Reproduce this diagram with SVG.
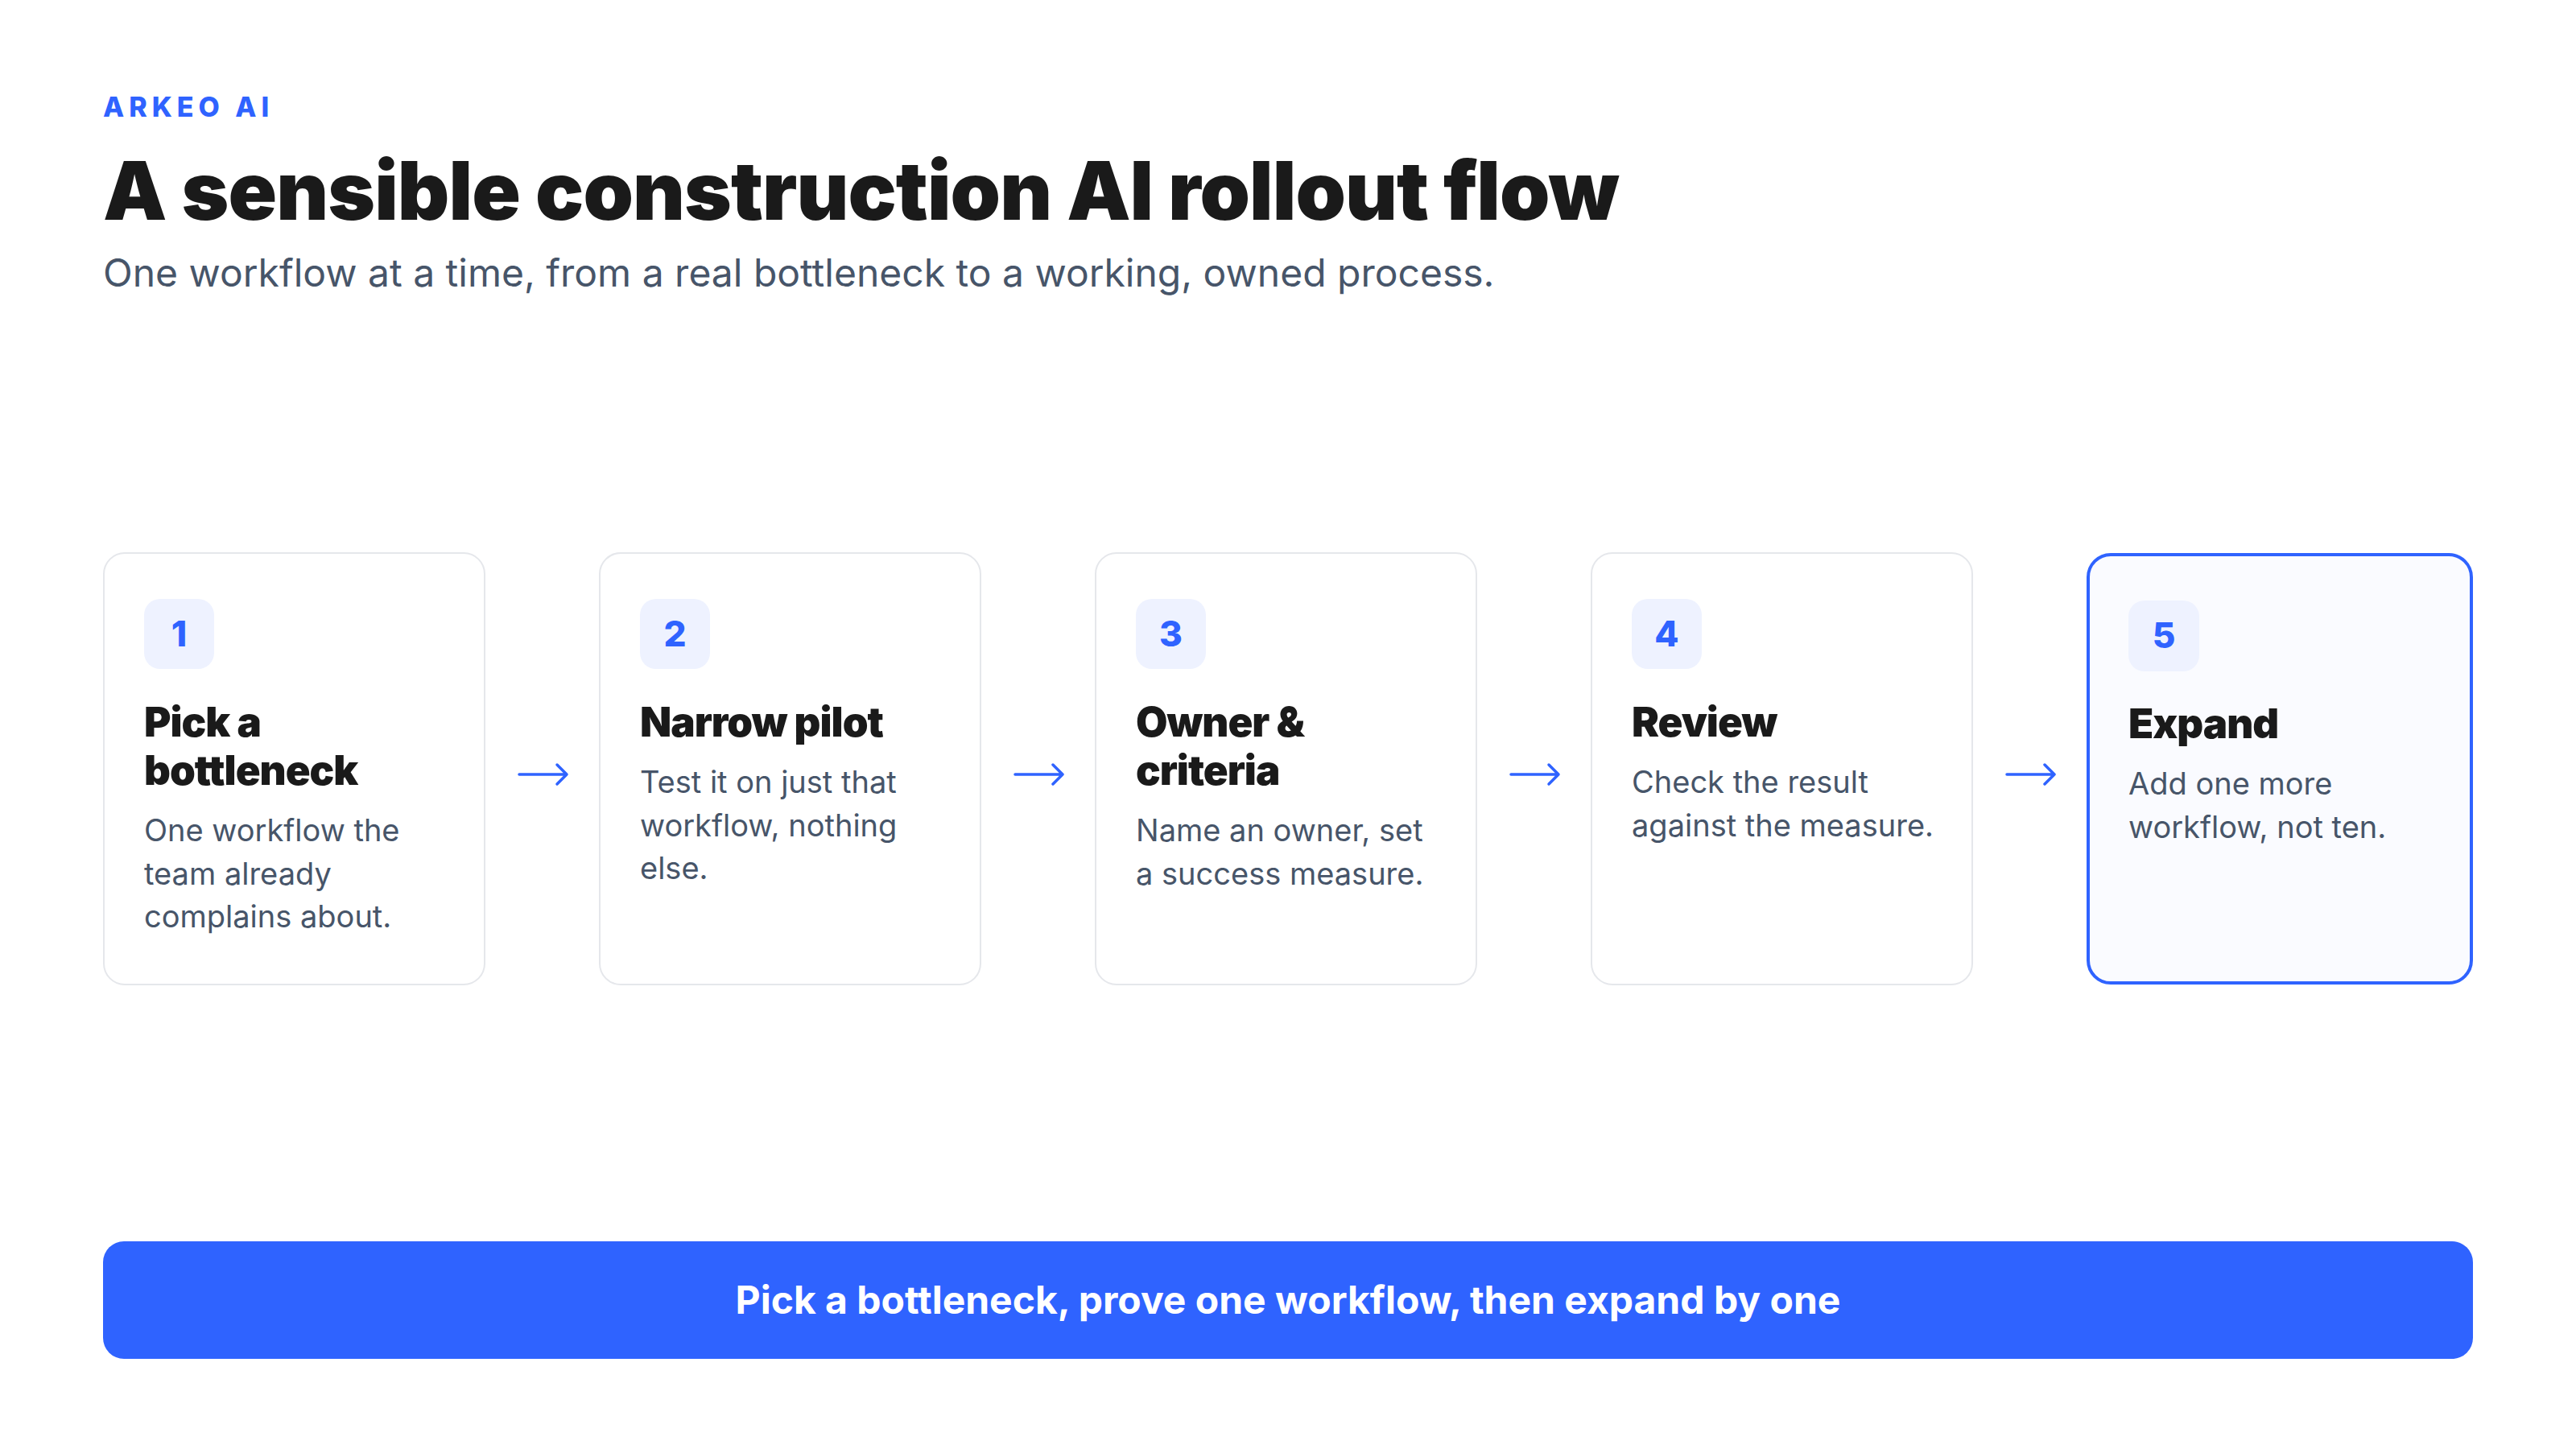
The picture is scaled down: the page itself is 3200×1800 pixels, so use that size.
<svg xmlns="http://www.w3.org/2000/svg" width="3200" height="1800" viewBox="0 0 3200 1800">
<style>
.bg{fill:#ffffff}
.card{fill:#ffffff;stroke:#E5E7EB;stroke-width:2}
.card.hl{fill:#FAFBFF;stroke:#2F63FF;stroke-width:4}
.badge{fill:#EEF2FF}
.num{font-family:Inter,"Noto Sans",sans-serif;font-weight:800;font-size:44px;fill:#2F63FF;text-anchor:middle}
.ct{font-family:Inter,"Noto Sans",sans-serif;font-weight:900;font-size:51px;fill:#1A1A1A;letter-spacing:-1px}
.cd{font-family:Inter,"Noto Sans",sans-serif;font-weight:400;font-size:38px;fill:#475569}
.eyebrow{font-family:Inter,"Noto Sans",sans-serif;font-weight:800;font-size:34px;fill:#2F63FF;letter-spacing:6px}
.title{font-family:Inter,"Noto Sans",sans-serif;font-weight:900;font-size:100px;fill:#1A1A1A;letter-spacing:-0.9px}
.sub{font-family:Inter,"Noto Sans",sans-serif;font-weight:400;font-size:48px;fill:#475569}
.arrow{fill:none;stroke:#2F63FF;stroke-width:3.5;stroke-linecap:round;stroke-linejoin:round}
.banner{fill:#2F63FF}
.bt{font-family:Inter,"Noto Sans",sans-serif;font-weight:700;font-size:48px;fill:#ffffff;text-anchor:middle}
</style>
<rect class="bg" x="0" y="0" width="3200" height="1800"/>
<g id="header">
<text class="eyebrow" x="128" y="145">ARKEO AI</text>
<text class="title" x="128" y="273">A sensible construction AI rollout flow</text>
<text class="sub" x="128" y="356">One workflow at a time, from a real bottleneck to a working, owned process.</text>
</g>
<g id="connectors">
<path class="arrow" d="M645 962 H704 M692 950 L704 962 L692 974"/>
<path class="arrow" d="M1261 962 H1320 M1308 950 L1320 962 L1308 974"/>
<path class="arrow" d="M1877 962 H1936 M1924 950 L1936 962 L1924 974"/>
<path class="arrow" d="M2493 962 H2552 M2540 950 L2552 962 L2540 974"/>
</g>
<g id="step1">
<rect class="card" x="129" y="687" width="473" height="536" rx="26"/>
<rect class="badge" x="179" y="744" width="87" height="87" rx="20"/>
<text class="num" x="222.5" y="803">1</text>
<text class="ct" x="179" y="915">Pick a</text>
<text class="ct" x="179" y="975">bottleneck</text>
<text class="cd" x="179" y="1045">One workflow the</text>
<text class="cd" x="179" y="1099">team already</text>
<text class="cd" x="179" y="1152">complains about.</text>
</g>
<g id="step2">
<rect class="card" x="745" y="687" width="473" height="536" rx="26"/>
<rect class="badge" x="795" y="744" width="87" height="87" rx="20"/>
<text class="num" x="838.5" y="803">2</text>
<text class="ct" x="795" y="915">Narrow pilot</text>
<text class="cd" x="795" y="985">Test it on just that</text>
<text class="cd" x="795" y="1039">workflow, nothing</text>
<text class="cd" x="795" y="1092">else.</text>
</g>
<g id="step3">
<rect class="card" x="1361" y="687" width="473" height="536" rx="26"/>
<rect class="badge" x="1411" y="744" width="87" height="87" rx="20"/>
<text class="num" x="1454.5" y="803">3</text>
<text class="ct" x="1411" y="915">Owner &amp;</text>
<text class="ct" x="1411" y="975">criteria</text>
<text class="cd" x="1411" y="1045">Name an owner, set</text>
<text class="cd" x="1411" y="1099">a success measure.</text>
</g>
<g id="step4">
<rect class="card" x="1977" y="687" width="473" height="536" rx="26"/>
<rect class="badge" x="2027" y="744" width="87" height="87" rx="20"/>
<text class="num" x="2070.5" y="803">4</text>
<text class="ct" x="2027" y="915">Review</text>
<text class="cd" x="2027" y="985">Check the result</text>
<text class="cd" x="2027" y="1039">against the measure.</text>
</g>
<g id="step5">
<rect class="card hl" x="2594" y="689" width="476" height="532" rx="28"/>
<rect class="badge" x="2644" y="746" width="88" height="88" rx="20"/>
<text class="num" x="2688" y="805">5</text>
<text class="ct" x="2644" y="917">Expand</text>
<text class="cd" x="2644" y="987">Add one more</text>
<text class="cd" x="2644" y="1041">workflow, not ten.</text>
</g>
<g id="banner">
<rect class="banner" x="128" y="1542" width="2944" height="146" rx="26"/>
<text class="bt" x="1600" y="1632">Pick a bottleneck, prove one workflow, then expand by one</text>
</g>
</svg>
